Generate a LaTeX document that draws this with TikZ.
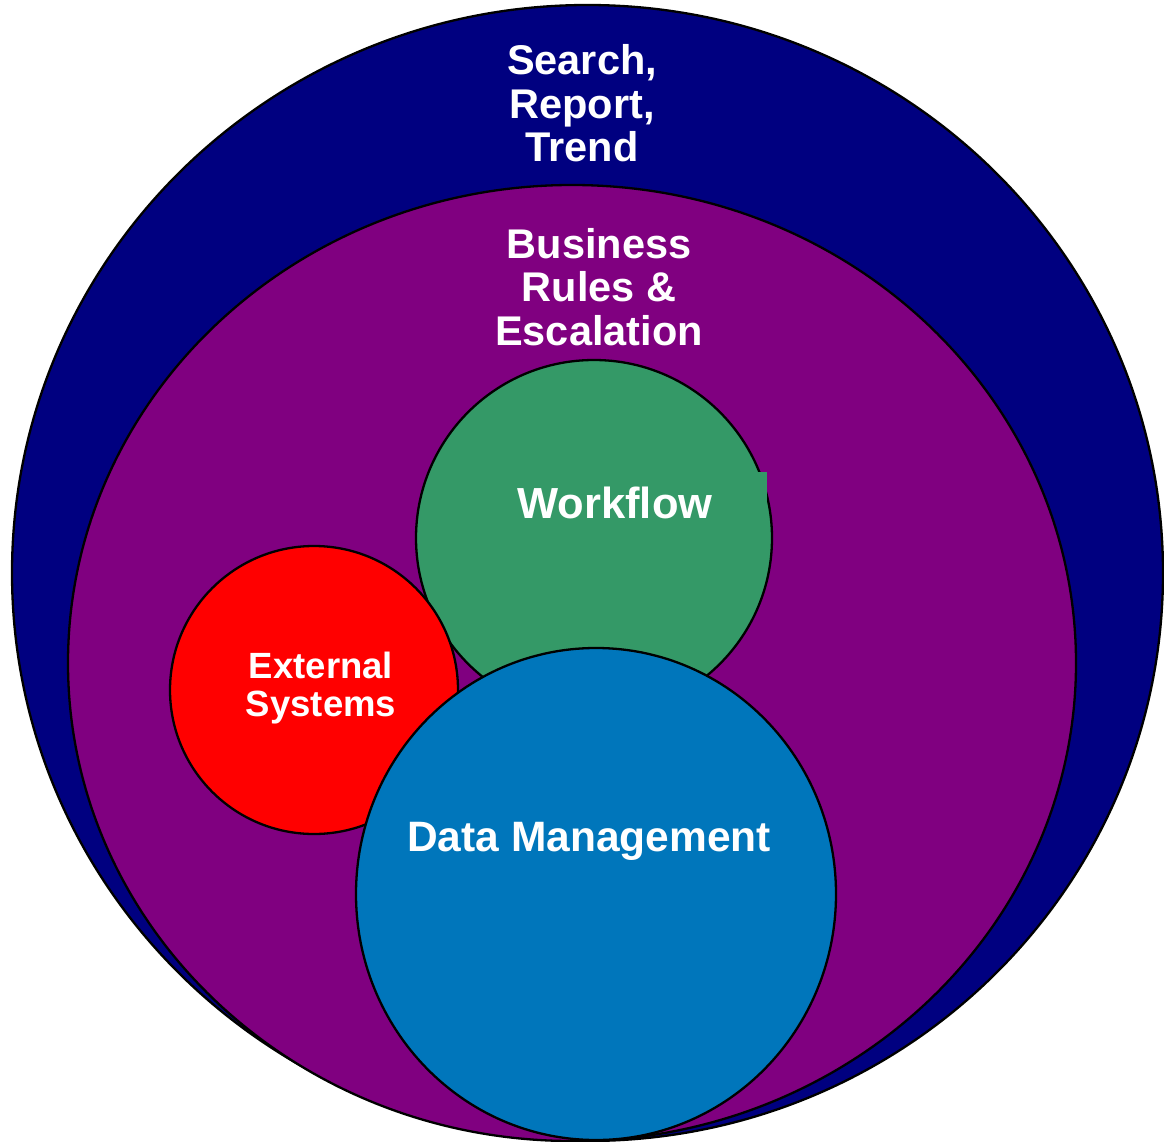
\documentclass[tikz,border=0pt]{standalone}
\usepackage{fontspec}
\setmainfont{Liberation Sans}
\usepackage{xcolor}
\usepackage{tikz}

\definecolor{searchnavy}{RGB}{0,0,128}
\definecolor{rulespurple}{RGB}{128,0,128}
\definecolor{flowgreen}{RGB}{52,153,103}
\definecolor{extred}{RGB}{255,0,0}
\definecolor{datablue}{RGB}{0,118,187}

\begin{document}
\begin{tikzpicture}[
  x=1pt, y=-1pt,
  ring/.style={draw=black, line width=2.3pt},
  lbl/.style={text=white, font=\bfseries\fontsize{41.5}{43.5}\selectfont, align=center, anchor=base, inner sep=0pt},
  smalllbl/.style={lbl, font=\bfseries\fontsize{36.5}{38}\selectfont}
]

% page frame
\useasboundingbox (0,0) rectangle (1164,1142);

% outer ring: search / report / trend
\filldraw[ring, fill=searchnavy] (587.5,573) ellipse [x radius=575.5, y radius=568];

% business rules ring
\filldraw[ring, fill=rulespurple] (572,663) ellipse [x radius=504, y radius=478];

% workflow circle (with the stray box edge of its text frame)
\filldraw[ring, fill=flowgreen] (594,538) circle [radius=178];
\fill[flowgreen] (700,472) rectangle (767,530);

% external systems
\filldraw[ring, fill=extred] (314,690) circle [radius=144];

% data management
\filldraw[ring, fill=datablue] (596,894) ellipse [x radius=240, y radius=246];

% labels
\node[lbl] (search) at (582,162) {Search,\\Report,\\Trend};
\node[lbl] (rules) at (599,345) {Business\\Rules \&\\Escalation};
\node[lbl, font=\bfseries\fontsize{43.5}{43.5}\selectfont] (flow) at (615,518) {Workflow};
\node[smalllbl] (ext) at (321,716) {External\\Systems};
\node[lbl, font=\bfseries\fontsize{42.5}{43.5}\selectfont] (data) at (589,851) {Data Management};

\end{tikzpicture}
\end{document}
